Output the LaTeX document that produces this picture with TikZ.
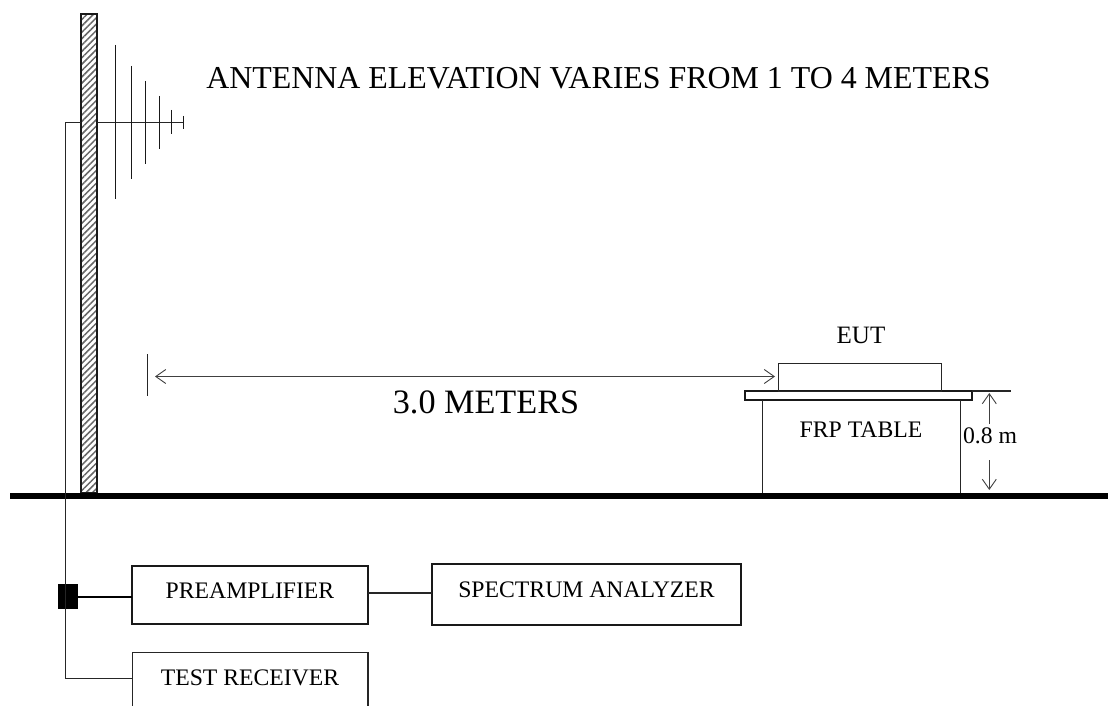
\documentclass[tikz,border=0pt]{standalone}
\usepackage{fontspec}
\setmainfont{Liberation Serif}
\usetikzlibrary{arrows.meta,patterns.meta}
\tikzset{
  x=1pt,y=-1pt,
  wire/.style={line width=1.3pt,draw=black!85},
  boxnode/.style={draw=black!90,line width=1.7pt,inner sep=0pt,outer sep=0pt,anchor=north west},
  thinbox/.style={draw=black!85,line width=1.3pt,inner sep=0pt,outer sep=0pt,anchor=north west},
  element/.style={line width=1.3pt,draw=black!90},
  dimarrow/.style={line width=.9pt,draw=black!75,{Straight Barb[length=10pt,width=14pt,line width=.9pt]}-{Straight Barb[length=10pt,width=14pt,line width=.9pt]}},
  onearrow/.style={line width=.9pt,draw=black!75,-{Straight Barb[length=10pt,width=14pt,line width=.9pt]}},
  small/.style={font=\fontsize{23.7}{26}\selectfont,inner sep=0pt},
  big/.style={font=\fontsize{31.9}{36}\selectfont,inner sep=0pt},
}
\begin{document}
\begin{tikzpicture}
\useasboundingbox (0,0) rectangle (1108,706);
\clip (0,0) rectangle (1108,706);
% mast
\node[boxnode,minimum width=16pt,minimum height=479pt,pattern={Lines[angle=45,distance=4.5pt,line width=1.5pt]},pattern color=black!60,line width=2pt] (mast) at (81.3,14) {};
% antenna
\coordinate (tip) at (183.3,122.5);
\draw[wire] (mast.east |- tip) -- (tip);
\draw[element] (115.3,45) -- (115.3,199);
\draw[element] (131.3,66) -- (131.3,179);
\draw[element] (145.8,81) -- (145.8,164);
\draw[element] (159.3,96) -- (159.3,149);
\draw[element] (171.3,110) -- (171.3,134);
\draw[element] (183.3,116) -- (183.3,129);
% ground
\coordinate (gl) at (10,495.5);
\coordinate (gr) at (1108,495.5);
\draw[line width=6pt] (gl) -- (gr);
% table
\node[boxnode,minimum width=227pt,minimum height=9pt,line width=1.6pt] (slab) at (745.2,391) {};
\node[thinbox,minimum width=163pt,minimum height=28pt] (eut) at (778.2,363.2) {};
\coordinate (legL) at (762.3,400);
\coordinate (legR) at (960.2,400);
\draw[wire] (legL) -- (762.3,493);
\draw[wire] (legR) -- (960.2,493);
\coordinate (lvl) at (1011,391);
\draw[wire] (slab.north east) -- (lvl);
% boxes
\node[boxnode,minimum width=235.7pt,minimum height=58pt] (pre) at (132.3,566) {};
\node[boxnode,minimum width=308.7pt,minimum height=60.7pt] (spec) at (432.3,564) {};
\node[thinbox,line width=1.5pt,minimum width=235.7pt,minimum height=70pt] (rec) at (132.3,652.7) {};
\node[fill=black,inner sep=0pt,outer sep=0pt,minimum width=20pt,minimum height=25pt,anchor=north west] (amp) at (58,584) {};
% cabling
\draw[wire] (mast.west |- tip) -- (65.2,122.5) -- (65.2,678.5) -- (rec.west |- 0,678.5);
\draw[line width=1.8pt] (amp.east |- 0,597) -- (pre.west |- 0,597);
\draw[wire,line width=1.5pt] (pre.east |- 0,593) -- (spec.west |- 0,593);
% dimensions
\coordinate (tick1) at (147.2,354);
\coordinate (tick2) at (147.2,396);
\draw[wire] (tick1) -- (tick2);
\coordinate (arL) at (155,376.5);
\coordinate (arR) at (775,376.5);
\draw[dimarrow] (arL) -- (arR);
\coordinate (up0) at (989.3,424);
\coordinate (up1) at (989.3,393);
\coordinate (dn0) at (989.3,460);
\coordinate (dn1) at (989.3,490);
\draw[onearrow] (up0) -- (up1);
\draw[onearrow] (dn0) -- (dn1);
% text
\node[big] (title) at (598.5,78) {ANTENNA ELEVATION VARIES FROM 1 TO 4 METERS};
\node[big,font=\fontsize{34.2}{38}\selectfont] (dist) at (486,402) {3.0 METERS};
\node[small,font=\fontsize{25}{28}\selectfont] (eutl) at (861,335) {EUT};
\node[small] (frp) at (861,430) {FRP TABLE};
\node[small] (h) at (990,436) {0.8 m};
\node[small] (prel) at (250,591) {PREAMPLIFIER};
\node[small] (specl) at (586.5,590) {SPECTRUM ANALYZER};
\node[small] (recl) at (250,677.5) {TEST RECEIVER};
\end{tikzpicture}
\end{document}
